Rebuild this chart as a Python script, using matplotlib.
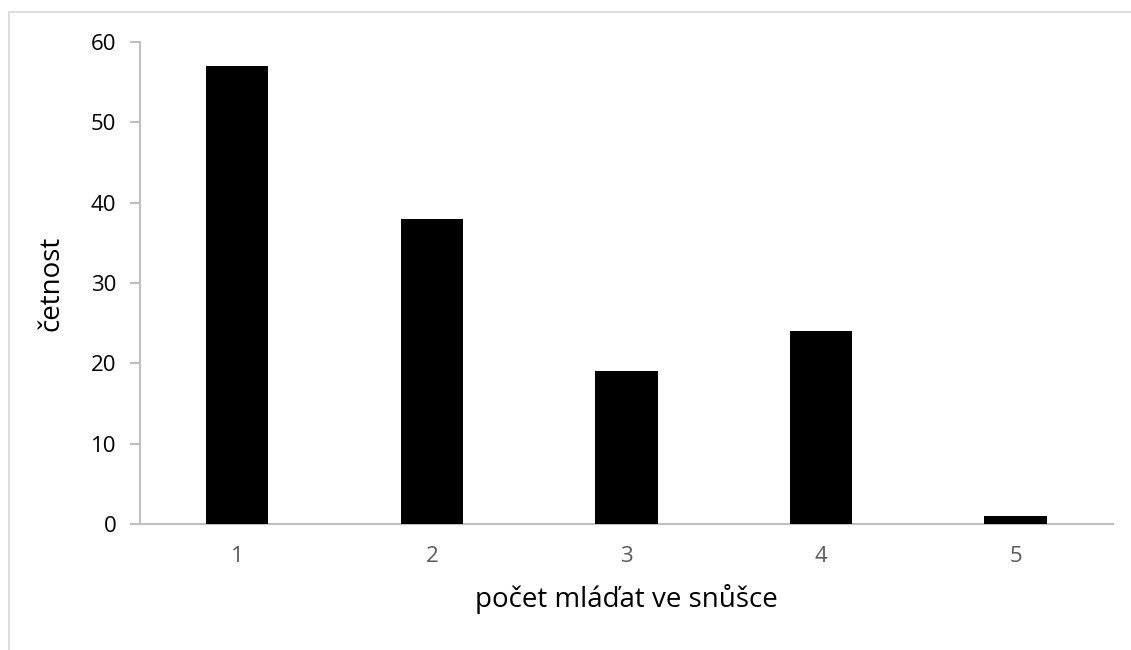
import matplotlib.pyplot as plt
from matplotlib.patches import Rectangle

# data
categories = ['1', '2', '3', '4', '5']
counts = [57, 38, 19, 24, 1]
y_ticks = [0, 10, 20, 30, 40, 50, 60]

plt.rcParams['font.family'] = ['Open Sans', 'DejaVu Sans']

fig = plt.figure(figsize=(11.31, 6.5), dpi=100)
ax = fig.add_axes([0.1238, 0.1938, 0.8602, 0.7416])

x = range(1, len(categories) + 1)
ax.bar(x, counts, width=0.32, color='black', zorder=3)

ax.set_xlim(0.5, len(categories) + 0.5)
ax.set_ylim(0, 60)
ax.set_yticks(y_ticks)
ax.set_xticks(list(x))
ax.set_xticklabels(categories)

ax.spines['top'].set_visible(False)
ax.spines['right'].set_visible(False)
ax.spines['left'].set_color('#bfbfbf')
ax.spines['bottom'].set_color('#bfbfbf')
ax.spines['left'].set_linewidth(1.5)
ax.spines['bottom'].set_linewidth(1.5)

ax.tick_params(axis='y', colors='#bfbfbf', labelcolor='black', length=7,
               width=1.5, labelsize=16, pad=10)
ax.tick_params(axis='x', length=0, labelcolor='#595959', labelsize=16, pad=16)

ax.set_xlabel('počet mláďat ve snůšce', fontsize=20, labelpad=12)
ax.set_ylabel('četnost', fontsize=20, labelpad=18)

# light outer frame like the Excel chart area
fig.patches.append(Rectangle((9 / 1131, -0.1), 1.2, 1 - 12 / 650 + 0.1,
                             transform=fig.transFigure, fill=False,
                             edgecolor='#d9d9d9', linewidth=1.2))

fig.savefig('out.png', dpi=100)
